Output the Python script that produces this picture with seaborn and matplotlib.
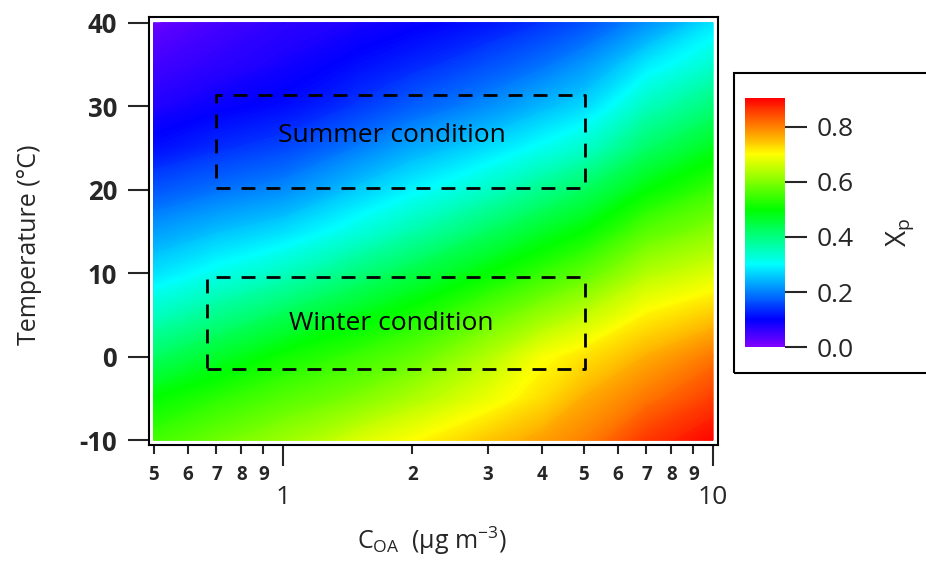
import numpy as np
import matplotlib
matplotlib.use("Agg")
import matplotlib.pyplot as plt
import seaborn as sns
from matplotlib.colors import LinearSegmentedColormap, Normalize
from matplotlib.cm import ScalarMappable
from matplotlib.patches import Rectangle

# ---------------- data ----------------
coa = [0.5, 0.7, 1.0, 1.5, 2.0, 3.0, 4.0, 5.0, 7.0, 10.0]          # C_OA (ug m-3)
temperature = [-10, -5, 0, 5, 10, 15, 20, 25, 30, 35, 40]            # deg C
xp_tm10 = [0.55, 0.585, 0.62, 0.67, 0.70, 0.745, 0.775, 0.80, 0.86, 0.90]
xp_tm05 = [0.50, 0.532, 0.565, 0.60, 0.635, 0.685, 0.725, 0.765, 0.81, 0.855]
xp_t000 = [0.424, 0.467, 0.511, 0.546, 0.575, 0.64, 0.695, 0.72, 0.765, 0.809]
xp_t005 = [0.348, 0.39, 0.433, 0.482, 0.516, 0.573, 0.618, 0.65, 0.708, 0.741]
xp_t010 = [0.278, 0.314, 0.35, 0.405, 0.445, 0.50, 0.54, 0.572, 0.64, 0.672]
xp_t015 = [0.224, 0.251, 0.275, 0.325, 0.365, 0.425, 0.47, 0.50, 0.568, 0.608]
xp_t020 = [0.167, 0.19, 0.21, 0.26, 0.295, 0.345, 0.39, 0.425, 0.496, 0.545]
xp_t025 = [0.111, 0.135, 0.155, 0.20, 0.235, 0.275, 0.31, 0.34, 0.42, 0.479]
xp_t030 = [0.077, 0.094, 0.108, 0.145, 0.175, 0.212, 0.245, 0.27, 0.352, 0.408]
xp_t035 = [0.049, 0.068, 0.085, 0.11, 0.13, 0.163, 0.19, 0.218, 0.285, 0.338]
xp_t040 = [0.02, 0.045, 0.068, 0.082, 0.094, 0.117, 0.14, 0.163, 0.215, 0.28]

summer_coa = [0.70, 5.05]
summer_temp = [20.2, 31.3]
winter_coa = [0.665, 5.05]
winter_temp = [-1.5, 9.6]
label_texts = ["Summer condition", "Winter condition"]
label_coa = [1.79, 1.79]
label_temp = [26.5, 4.0]

y_ticks = [-10, 0, 10, 20, 30, 40]
x_major = [1, 10]
x_major_labels = ["1", "10"]
x_minor = [0.5, 0.6, 0.7, 0.8, 0.9, 2, 3, 4, 5, 6, 7, 8, 9]
x_minor_labels = ["5", "6", "7", "8", "9", "2", "3", "4", "5", "6", "7", "8", "9"]
cb_ticks = [0.0, 0.2, 0.4, 0.6, 0.8]
cb_labels = ["0.0", "0.2", "0.4", "0.6", "0.8"]

# ---------------- style ----------------
sns.set_style("ticks")
FONT = "Open Sans"
plt.rcParams["font.family"] = [FONT, "DejaVu Sans"]
plt.rcParams["mathtext.fontset"] = "custom"
plt.rcParams["mathtext.rm"] = FONT
plt.rcParams["mathtext.it"] = FONT + ":italic"
plt.rcParams["mathtext.bf"] = FONT + ":bold"

vmax = 0.905
cmap = LinearSegmentedColormap.from_list(
    "igor_rainbow",
    [(0.0, "#8000ff"), (0.1 / vmax, "#0000ff"), (0.3 / vmax, "#00ffff"),
     (0.5 / vmax, "#00ff00"), (0.7 / vmax, "#ffff00"), (1.0, "#ff0000")])
norm = Normalize(vmin=0.0, vmax=vmax)

W, H = 926, 561
fig = plt.figure(figsize=(W / 100, H / 100), dpi=100)
fig.patch.set_facecolor("white")

ax = fig.add_axes([149 / W, (H - 445) / H, (718 - 149) / W, (445 - 17) / H])
ax.set_facecolor("white")

Z = np.array([xp_tm10, xp_tm05, xp_t000, xp_t005, xp_t010, xp_t015,
              xp_t020, xp_t025, xp_t030, xp_t035, xp_t040])
X, Y = np.meshgrid(coa, temperature)
# underlay fills any hairline gaps of the filled contours
ax.pcolormesh(X, Y, Z, shading="gouraud", cmap=cmap, norm=norm, zorder=0.5)
levels = np.linspace(0.0, vmax, 241)
cs = ax.contourf(X, Y, Z, levels=levels, cmap=cmap, norm=norm,
                 antialiased=True, zorder=1)
cs.set_edgecolor("face")
cs.set_linewidth(0.4)

ax.set_xscale("log")
ax.set_xlim(0.488, 10.27)
ax.set_ylim(-10.57, 40.68)

# dashed condition boxes
for cx, ty in [(summer_coa, summer_temp), (winter_coa, winter_temp)]:
    ax.plot([cx[0], cx[1], cx[1], cx[0], cx[0]],
            [ty[0], ty[0], ty[1], ty[1], ty[0]],
            color="black", lw=2.0, linestyle=(0, (5, 4)),
            dash_capstyle="butt", zorder=3)

for txt, cx, ty in zip(label_texts, label_coa, label_temp):
    ax.text(cx, ty, txt, ha="center", va="center", fontsize=19, color="black",
            zorder=4)

# spines
for s in ax.spines.values():
    s.set_linewidth(1.5)
    s.set_color("black")

# ticks
ax.set_yticks(y_ticks)
ax.set_yticklabels([str(v) for v in y_ticks], fontsize=18.5, fontweight="bold")
ax.tick_params(axis="y", which="major", length=15, width=1.5, pad=8,
               direction="out", left=True, right=False)
ax.set_xticks(x_major)
ax.set_xticklabels(x_major_labels, fontsize=19)
ax.set_xticks(x_minor, minor=True)
ax.set_xticklabels(x_minor_labels, minor=True, fontsize=13.5, fontweight="bold")
ax.tick_params(axis="x", which="major", length=15, width=1.5, pad=14,
               direction="out", bottom=True, top=False)
ax.tick_params(axis="x", which="minor", length=6.5, width=1.5, pad=8,
               direction="out", bottom=True, top=False)

# axis labels
fig.text(30 / W, 1 - 245 / H, "Temperature (°C)", rotation=90,
         ha="center", va="center", fontsize=18)
fig.text(432 / W, 1 - 541 / H, r"C$_{\mathrm{OA}}$  (μg m$^{\mathrm{-3}}$)",
         ha="center", va="center", fontsize=18)

# colorbar frame box
fig.add_artist(Rectangle((734 / W, (H - 373) / H), 0.4, 300 / H,
                         transform=fig.transFigure, fill=False,
                         lw=1.5, ec="black", facecolor="none"))

cax = fig.add_axes([745 / W, (H - 347.3) / H, 40 / W, 249.6 / H])
sm = ScalarMappable(norm=norm, cmap=cmap)
cb = fig.colorbar(sm, cax=cax)
cb.outline.set_visible(False)
cb.set_ticks(cb_ticks)
cb.set_ticklabels(cb_labels)
cax.tick_params(length=16, width=1.5, labelsize=19, pad=7, direction="out")

fig.text(900 / W, 1 - 232 / H, r"X$_{\mathrm{p}}$", rotation=90,
         ha="center", va="center", fontsize=20)

fig.savefig("out.png", dpi=100, facecolor="white")
